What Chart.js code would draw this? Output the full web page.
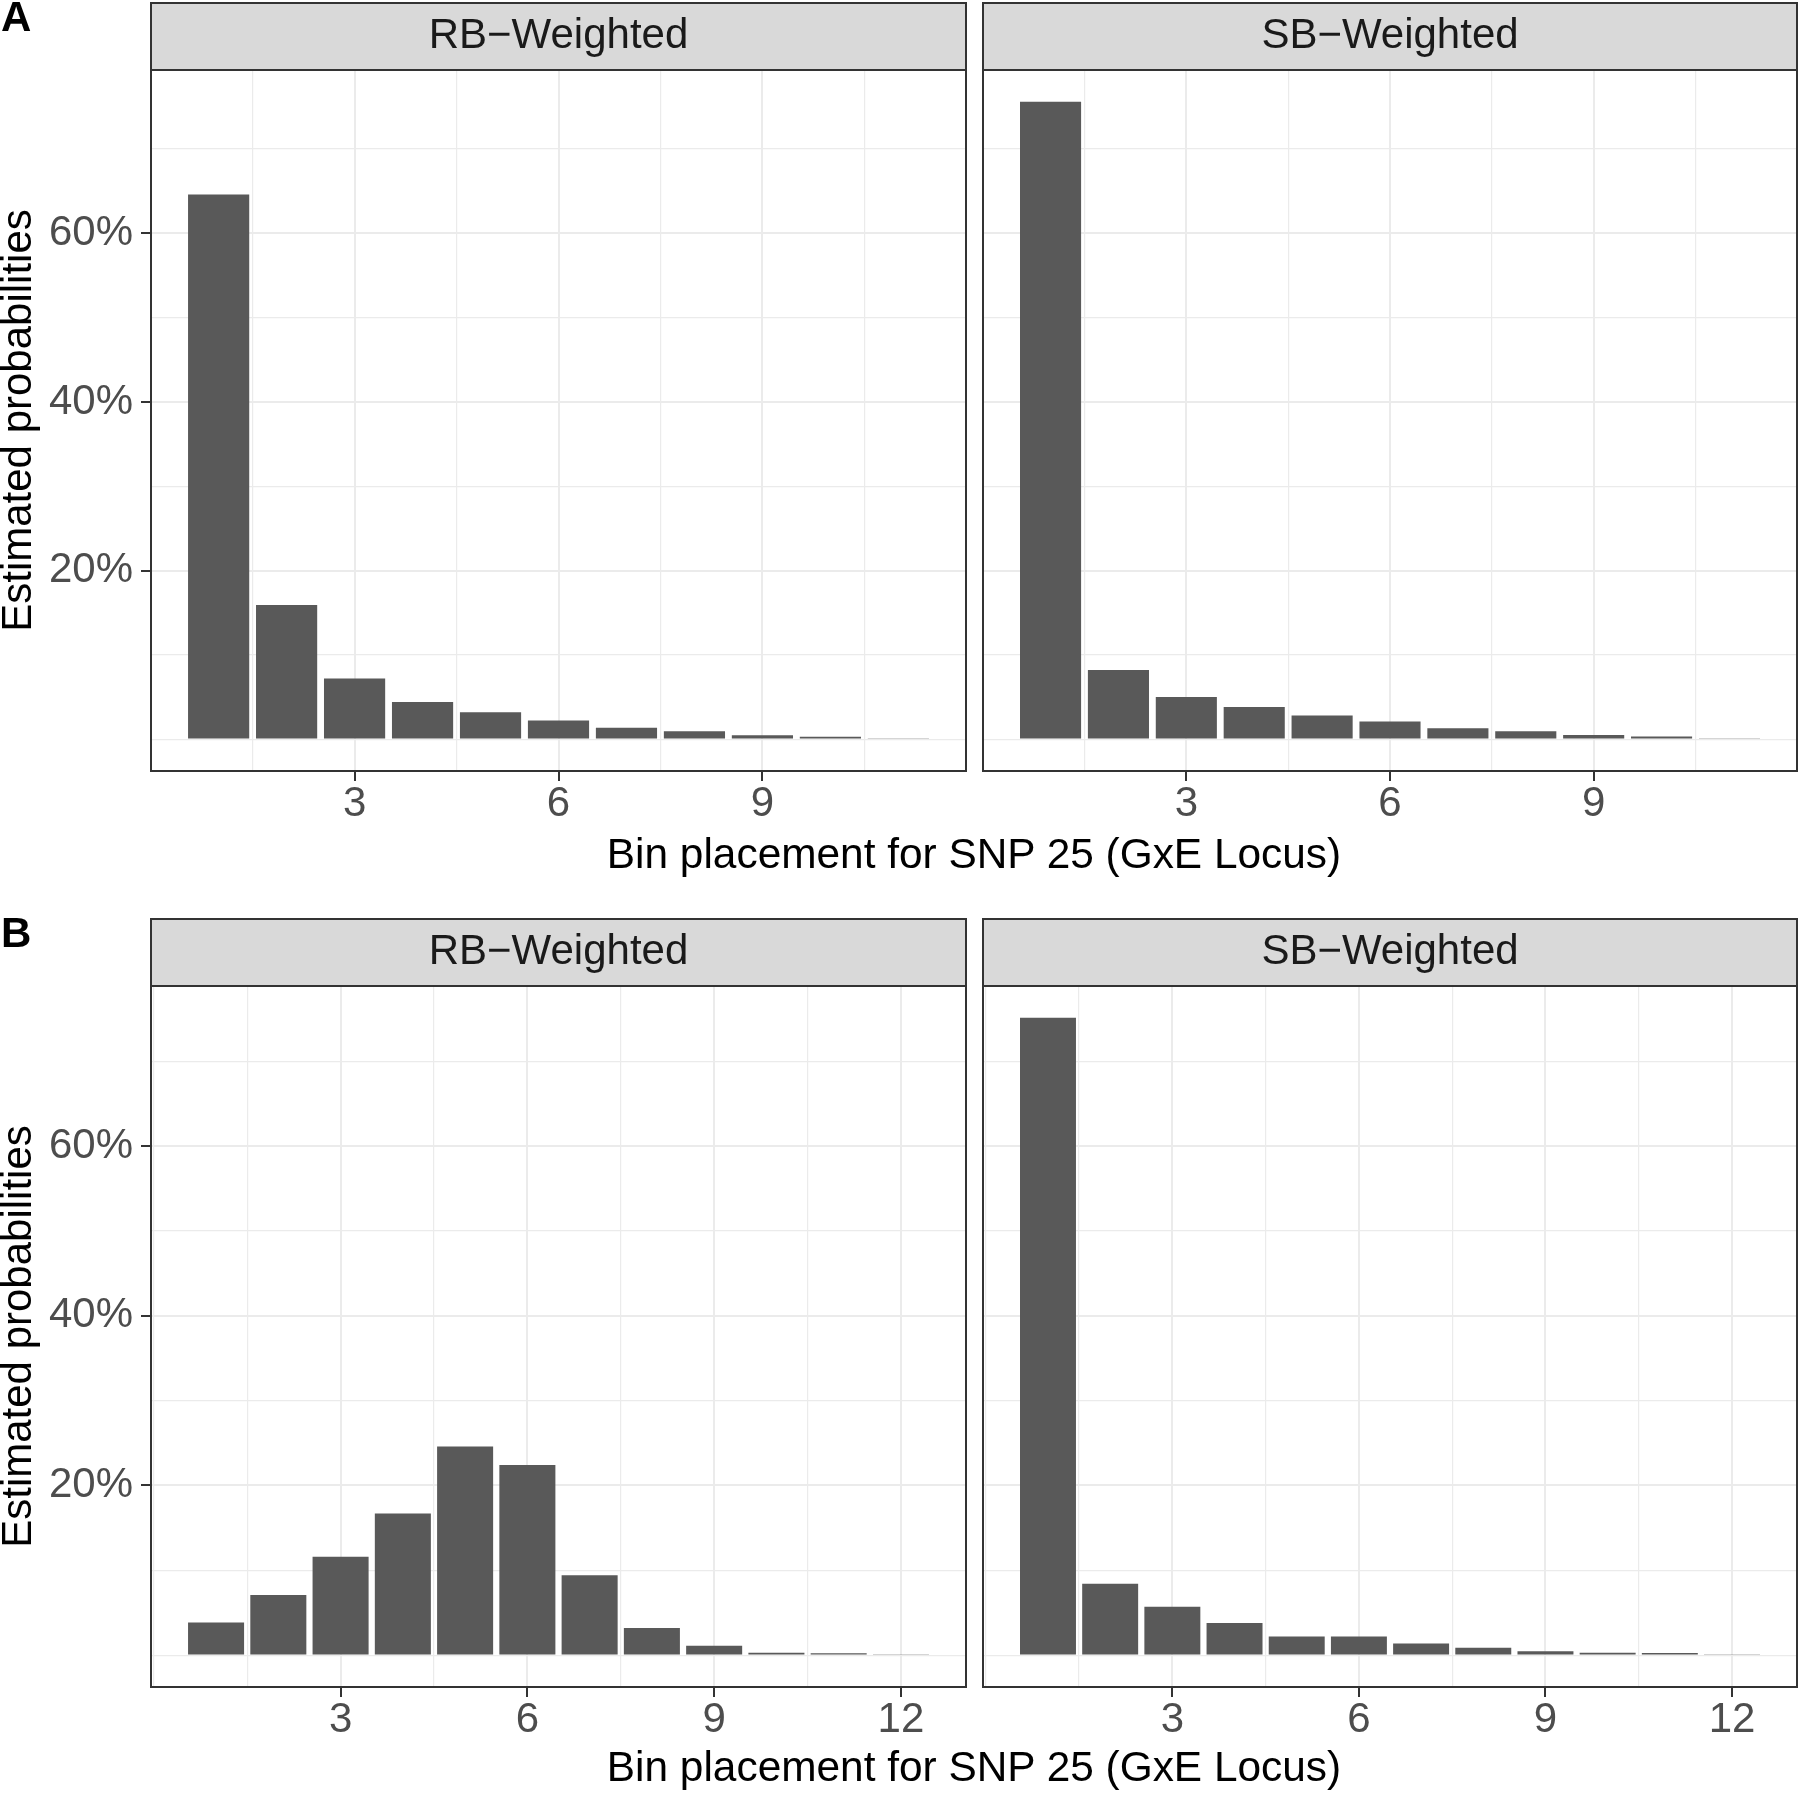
<!DOCTYPE html>
<html>
<head>
<meta charset="utf-8">
<script src="https://cdn.jsdelivr.net/npm/chart.js@4/dist/chart.umd.min.js"></script>
<style>
html, body { margin: 0; padding: 0; background: #ffffff; }
body { width: 1800px; height: 1793px; position: relative; overflow: hidden; font-family: "Liberation Sans", Arial, sans-serif; }
canvas { position: absolute; }
.lbl { position: absolute; font-size: 42px; line-height: 42px; white-space: nowrap; color: #000; }
</style>
</head>
<body>
<canvas id="cA1" width="975" height="840" style="left:0px;top:0px"></canvas>
<canvas id="cA2" width="825" height="840" style="left:975px;top:0px"></canvas>
<canvas id="cB1" width="975" height="840" style="left:0px;top:916px"></canvas>
<canvas id="cB2" width="825" height="840" style="left:975px;top:916px"></canvas>
<div id="tagA" class="lbl" style="left:1px;top:-4px;font-weight:bold"></div>
<div id="tagB" class="lbl" style="left:1px;top:912px;font-weight:bold"></div>
<div id="xtA" class="lbl" style="left:151px;width:1646px;text-align:center;top:833px;font-size:42.4px"></div>
<div id="xtB" class="lbl" style="left:151px;width:1646px;text-align:center;top:1746px;font-size:42.4px"></div>
<script>
// ---------- data ----------
const binsA = [1, 2, 3, 4, 5, 6, 7, 8, 9, 10, 11];
const binsB = [1, 2, 3, 4, 5, 6, 7, 8, 9, 10, 11, 12];
// estimated probabilities, in percent
const rbA = [64.6, 15.9, 7.2, 4.4, 3.2, 2.2, 1.35, 0.95, 0.45, 0.28, 0.1];
const sbA = [75.6, 8.2, 5.0, 3.8, 2.8, 2.1, 1.3, 0.95, 0.5, 0.3, 0.1];
const rbB = [3.85, 7.1, 11.6, 16.7, 24.6, 22.4, 9.4, 3.2, 1.1, 0.27, 0.22, 0.1];
const sbB = [75.1, 8.4, 5.7, 3.8, 2.2, 2.2, 1.37, 0.88, 0.47, 0.27, 0.25, 0.1];
const xBreaksA = [3, 6, 9];
const xBreaksB = [3, 6, 9, 12];
const yBreaks = [20, 40, 60];
const facetLabels = ['RB\u2212Weighted', 'SB\u2212Weighted'];
const panelTags = ['A', 'B'];
const xTitle = 'Bin placement for SNP 25 (GxE Locus)';
const yTitle = 'Estimated probabilities';

// ---------- helpers ----------
const FONT = '"Liberation Sans", Arial, sans-serif';
Chart.defaults.font.family = FONT;

document.getElementById('tagA').textContent = panelTags[0];
document.getElementById('tagB').textContent = panelTags[1];
document.getElementById('xtA').textContent = xTitle;
document.getElementById('xtB').textContent = xTitle;

function expand(lo, hi) { const d = (hi - lo) * 0.05; return [lo - d, hi + d]; }
function withMinor(b, limLo, limHi, rLo, rHi) {
  const d = b[1] - b[0];
  const e = b.slice();
  if (limLo < e[0]) e.unshift(e[0] - d);
  if (limHi > e[e.length - 1]) e.push(e[e.length - 1] + d);
  const out = [];
  for (let i = 0; i < e.length - 1; i++) { out.push(e[i]); out.push((e[i] + e[i + 1]) / 2); }
  out.push(e[e.length - 1]);
  return out.filter(v => v >= rLo && v <= rHi);
}

const STRIP_H = 67;
const panelPlugin = {
  id: 'panelDeco',
  beforeDraw(chart) {
    const { ctx, chartArea: a } = chart;
    ctx.save();
    ctx.fillStyle = '#D9D9D9';
    ctx.fillRect(a.left, a.top - STRIP_H, a.right - a.left, STRIP_H);
    ctx.restore();
  },
  afterDraw(chart) {
    const { ctx, chartArea: a } = chart;
    ctx.save();
    ctx.strokeStyle = '#333333';
    ctx.lineWidth = 2;
    ctx.strokeRect(a.left, a.top - STRIP_H, a.right - a.left, STRIP_H);
    ctx.strokeRect(a.left, a.top, a.right - a.left, a.bottom - a.top);
    ctx.restore();
  }
};

function makePanel(id, bins, vals, xBreaks, yDataMax, isLeft, facet) {
  const xLim = [bins[0] - 0.45, bins[bins.length - 1] + 0.45];
  const [xLo, xHi] = expand(xLim[0], xLim[1]);
  const [yLo, yHi] = expand(0, yDataMax);
  const xAll = withMinor(xBreaks, xLim[0], xLim[1], xLo, xHi);
  const yAll = withMinor(yBreaks, 0, yDataMax, yLo, yHi);
  const isMajX = v => xBreaks.includes(v);
  const isMajY = v => yBreaks.includes(v);
  const tickFont = { family: FONT, size: 42, lineHeight: 1.0 };
  new Chart(document.getElementById(id), {
    type: 'bar',
    data: {
      datasets: [{
        data: bins.map((b, i) => ({ x: b, y: vals[i] })),
        backgroundColor: '#595959',
        borderWidth: 0,
        barPercentage: 0.9,
        categoryPercentage: 1.0
      }]
    },
    options: {
      responsive: false,
      animation: false,
      devicePixelRatio: 1,
      layout: { padding: { top: 3, left: 0, right: isLeft ? 9 : 3, bottom: 0 } },
      plugins: {
        legend: { display: false },
        tooltip: { enabled: false },
        title: {
          display: true, text: facet, fullSize: false, color: '#1A1A1A',
          font: { family: FONT, size: 42, weight: 'normal', lineHeight: 1.2 },
          padding: { top: 8, bottom: 8.6 }
        }
      },
      scales: {
        x: {
          type: 'linear', min: xLo, max: xHi, offset: false,
          afterFit: s => { s.height = 69; },
          afterBuildTicks: s => { s.ticks = xAll.map(v => ({ value: v })); },
          ticks: {
            autoSkip: false, maxRotation: 0, minRotation: 0,
            callback: v => isMajX(v) ? String(v) : '',
            font: tickFont, color: '#4D4D4D', padding: 2
          },
          grid: {
            offset: false,
            color: '#EBEBEB',
            lineWidth: c => (c.tick && isMajX(c.tick.value)) ? 2 : 1.2,
            tickColor: c => (c.tick && isMajX(c.tick.value)) ? '#333333' : 'rgba(0,0,0,0)',
            tickWidth: 2, tickLength: 10, drawTicks: true
          },
          border: { display: false }
        },
        y: {
          type: 'linear', min: yLo, max: yHi,
          afterFit: s => { s.width = isLeft ? 151 : 8; },
          afterBuildTicks: s => { s.ticks = yAll.map(v => ({ value: v })); },
          ticks: {
            display: isLeft, autoSkip: false,
            callback: v => isMajY(v) ? v + '%' : '',
            font: tickFont, color: '#4D4D4D', padding: 8
          },
          grid: {
            offset: false,
            color: '#EBEBEB',
            lineWidth: c => (c.tick && isMajY(c.tick.value)) ? 2 : 1.2,
            tickColor: c => (c.tick && isMajY(c.tick.value)) ? '#333333' : 'rgba(0,0,0,0)',
            tickWidth: 2, tickLength: 10, drawTicks: isLeft
          },
          border: { display: false },
          title: {
            display: isLeft, text: yTitle, color: '#000000',
            font: { family: FONT, size: 42, lineHeight: 0.93 },
            padding: { top: 0, bottom: 0 }
          }
        }
      }
    },
    plugins: [panelPlugin]
  });
}

const maxA = Math.max(...rbA, ...sbA);
const maxB = Math.max(...rbB, ...sbB);
makePanel('cA1', binsA, rbA, xBreaksA, maxA, true, facetLabels[0]);
makePanel('cA2', binsA, sbA, xBreaksA, maxA, false, facetLabels[1]);
makePanel('cB1', binsB, rbB, xBreaksB, maxB, true, facetLabels[0]);
makePanel('cB2', binsB, sbB, xBreaksB, maxB, false, facetLabels[1]);
</script>
</body>
</html>
